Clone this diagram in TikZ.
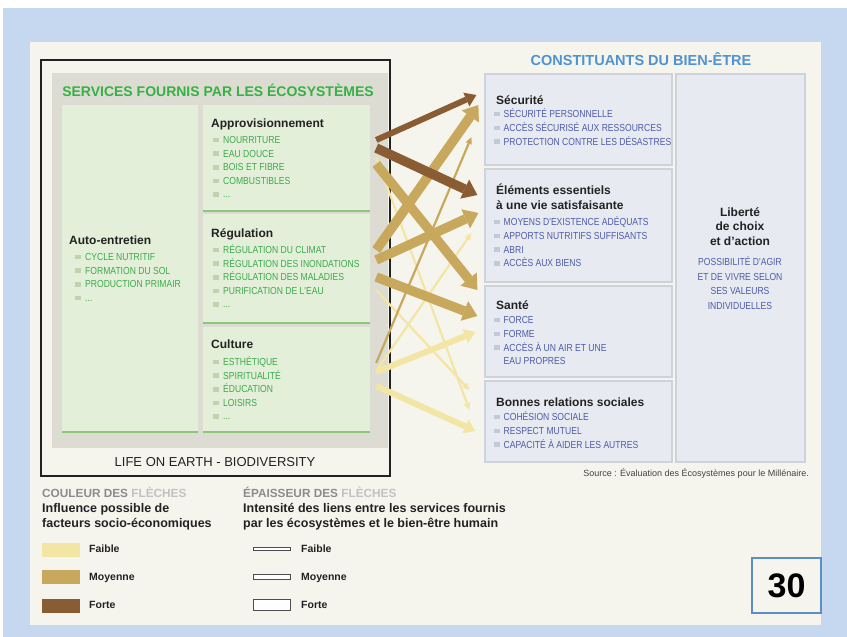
\documentclass[tikz,border=0pt]{standalone}
\usepackage{fontspec}
\setmainfont{Liberation Sans}
\newfontfamily\etroit[FakeStretch=0.84]{Liberation Sans}
\usetikzlibrary{arrows.meta,calc}
\definecolor{mebleu}{HTML}{C5D8EF}
\definecolor{mecreme}{HTML}{F5F4ED}
\definecolor{megris}{HTML}{DCDCD3}
\definecolor{mevertfond}{HTML}{E4EFD9}
\definecolor{mevertligne}{HTML}{8DC57C}
\definecolor{mevert}{HTML}{3BAA4C}
\definecolor{mevertpuce}{HTML}{BFD3AE}
\definecolor{mebleufond}{HTML}{E8EAF1}
\definecolor{mebleubord}{HTML}{CDD2DD}
\definecolor{mebleutexte}{HTML}{4D5CAA}
\definecolor{mebleutitre}{HTML}{4F93D2}
\definecolor{mebleupuce}{HTML}{C4C9D6}
\definecolor{meink}{HTML}{222222}
\definecolor{mefaible}{HTML}{F3E6A4}
\definecolor{memoyenne}{HTML}{C8A85C}
\definecolor{meforte}{HTML}{8A5C33}
\definecolor{megristexte}{HTML}{8C8C8C}
\definecolor{megrisclair}{HTML}{C2C2C2}
\definecolor{mecadre}{HTML}{5B8DCB}

\newcommand{\pv}{{\color{mevertpuce}\rule[1.2pt]{5.5pt}{4.5pt}}\hspace{4.5pt}}
\newcommand{\pb}{{\color{mebleupuce}\rule[1.2pt]{5.5pt}{4.5pt}}\hspace{4pt}}

\begin{document}
\begin{tikzpicture}[
  x=1pt, y=-1pt,
  font=\rmfamily,
  gbox/.style={fill=mevertfond, inner sep=0pt},
  bbox/.style={fill=mebleufond, draw=mebleubord, line width=1.2pt, inner sep=0pt},
  gline/.style={draw=mevertligne, line width=1.6pt},
  ghead/.style={anchor=base west, inner sep=0pt, align=left, text=meink,
    font=\bfseries\fontsize{12}{15}\selectfont},
  gitem/.style={anchor=base west, inner sep=0pt, align=left, text=mevert,
    font=\etroit\fontsize{10.2}{13.6}\selectfont},
  bitem/.style={gitem, text=mebleutexte, font=\etroit\fontsize{10.2}{13.8}\selectfont},
  mince/.style={line width=2.2pt, -{Triangle[length=7pt,width=6.5pt,line width=0pt]}},
  moyen/.style={line width=6pt, -{Triangle[length=11pt,width=15pt,line width=0pt]}},
  epais/.style={line width=9.5pt, -{Triangle[length=14pt,width=21pt,line width=0pt]}},
  faible/.style={draw=mefaible},
  moyenne/.style={draw=memoyenne},
  forte/.style={draw=meforte},
  legtitre/.style={anchor=base west, inner sep=0pt, align=left, text=meink,
    font=\bfseries\fontsize{12.5}{15}\selectfont},
  legtxt/.style={anchor=base west, inner sep=0pt, text=meink,
    font=\bfseries\fontsize{10.5}{12}\selectfont},
  swatch/.style={minimum width=38pt, minimum height=14pt, inner sep=0pt},
  epbox/.style={draw=meink!80, fill=white, line width=0.8pt, minimum width=37pt, inner sep=0pt},
]

% ===== fond =====
\useasboundingbox (0,0) rectangle (847,637);
\fill[white] (0,0) rectangle (847,637);
\fill[mebleu] (3,8) rectangle (847,637);
\fill[mecreme] (30,42) rectangle (821,625);

% =========================================================
% GAUCHE : SERVICES
% (multi-line nodes sit on the baseline of their last line)
% =========================================================
\fill[megris] (52,73) rectangle (388,448);
\node[font=\bfseries\fontsize{14}{16}\selectfont, text=mevert!90!green, anchor=base, inner sep=0pt]
  (titreserv) at (218,96) {SERVICES FOURNIS PAR LES ÉCOSYSTÈMES};

\node[gbox, minimum width=136pt, minimum height=327pt] (auto) at (130,268.5) {};
\node[gbox, minimum width=167pt, minimum height=106pt] (appro) at (286.5,158) {};
\node[gbox, minimum width=167pt, minimum height=109pt] (regul) at (286.5,268.5) {};
\node[gbox, minimum width=167pt, minimum height=105pt] (cult) at (286.5,379.5) {};
\draw[gline] (auto.south west) -- (auto.south east);
\draw[gline] (appro.south west) -- (appro.south east);
\draw[gline] (regul.south west) -- (regul.south east);
\draw[gline] (cult.south west) -- (cult.south east);

\node[ghead] (autotitre) at (69,244) {Auto-entretien};
\node[gitem] (autoliste) at (75,301.3)
  {\pv CYCLE NUTRITIF\\\pv FORMATION DU SOL\\\pv PRODUCTION PRIMAIR\\\pv ...};
\node[ghead] (approtitre) at (211,127) {Approvisionnement};
\node[gitem] (approliste) at (213,197.9)
  {\pv NOURRITURE\\\pv EAU DOUCE\\\pv BOIS ET FIBRE\\\pv COMBUSTIBLES\\\pv ...};
\node[ghead] (regultitre) at (211,237) {Régulation};
\node[gitem] (regulliste) at (213,307.9)
  {\pv RÉGULATION DU CLIMAT\\\pv RÉGULATION DES INONDATIONS\\\pv RÉGULATION DES MALADIES\\\pv PURIFICATION DE L'EAU\\\pv ...};
\node[ghead] (culttitre) at (211,348) {Culture};
\node[gitem] (cultliste) at (213,419.9)
  {\pv ESTHÉTIQUE\\\pv SPIRITUALITÉ\\\pv ÉDUCATION\\\pv LOISIRS\\\pv ...};

\node[font=\fontsize{13}{15}\selectfont, text=meink, anchor=base, inner sep=0pt]
  (vie) at (215,466.7) {LIFE ON EARTH - BIODIVERSITY};
\draw[draw=meink, line width=1.4pt] (41,60) rectangle (390,476);

% =========================================================
% DROITE : CONSTITUANTS DU BIEN-ETRE
% =========================================================
\node[font=\bfseries\fontsize{14.5}{16}\selectfont, text=mebleutitre, anchor=base, inner sep=0pt]
  (titrebien) at (641,65) {CONSTITUANTS DU BIEN-ÊTRE};

\node[bbox, minimum width=187pt, minimum height=91pt] (secu) at (578.5,119.5) {};
\node[bbox, minimum width=187pt, minimum height=113pt] (essen) at (578.5,225.5) {};
\node[bbox, minimum width=187pt, minimum height=91pt] (sante) at (578.5,331.5) {};
\node[bbox, minimum width=187pt, minimum height=81pt] (relat) at (578.5,421.5) {};
\node[bbox, minimum width=129pt, minimum height=388pt] (liberte) at (740.5,268) {};

\node[ghead] (secutitre) at (496,104.3) {Sécurité};
\node[bitem] (seculiste) at (494,145.1)
  {\pb SÉCURITÉ PERSONNELLE\\\pb ACCÈS SÉCURISÉ AUX RESSOURCES\\\pb PROTECTION CONTRE LES DÉSASTRES};
\node[ghead] (essentitre) at (496,209.3) {Éléments essentiels\\à une vie satisfaisante};
\node[bitem] (essenliste) at (494,266.9)
  {\pb MOYENS D'EXISTENCE ADÉQUATS\\\pb APPORTS NUTRITIFS SUFFISANTS\\\pb ABRI\\\pb ACCÈS AUX BIENS};
\node[ghead] (santetitre) at (496,309) {Santé};
\node[bitem] (santeliste) at (494,364.9)
  {\pb FORCE\\\pb FORME\\\pb ACCÈS À UN AIR ET UNE\\\hspace*{9.5pt}EAU PROPRES};
\node[ghead] (relattitre) at (496,406) {Bonnes relations sociales};
\node[bitem] (relatliste) at (494,448.1)
  {\pb COHÉSION SOCIALE\\\pb RESPECT MUTUEL\\\pb CAPACITÉ À AIDER LES AUTRES};
\node[ghead, anchor=base, align=center, font=\bfseries\fontsize{12}{14.6}\selectfont]
  (libertetitre) at (740,245.5) {Liberté\\de choix\\et d'action};
\node[bitem, anchor=base, align=center, font=\etroit\fontsize{10.2}{14.6}\selectfont]
  (liberteliste) at (740,309.3) {POSSIBILITÉ D'AGIR\\ET DE VIVRE SELON\\SES VALEURS\\INDIVIDUELLES};

\node[anchor=base east, inner sep=0pt, font=\fontsize{9}{11}\selectfont, text=meink!85]
  (source) at (809,476) {Source : Évaluation des Écosystèmes pour le Millénaire.};

% ===== flèches =====
\draw[faible, mince] ($(appro.east)+(6,-1)$) -- ($(relat.west)+(-15,-11.5)$);
\draw[faible, mince] ($(regul.east)+(6,21.5)$) -- ($(relat.west)+(-15,-31.5)$);
\draw[faible, mince] ($(cult.east)+(6,-8.5)$) -- ($(essen.west)+(-13,7.5)$);
\draw[faible, moyen] ($(cult.east)+(6,-7.5)$) -- ($(sante.west)+(-9,0.5)$);
\draw[faible, moyen] ($(cult.east)+(6,6.5)$) -- ($(relat.west)+(-9,9.5)$);
\draw[moyenne, mince] ($(cult.east)+(6,-16.5)$) -- ($(secu.west)+(-13,17.5)$);
\draw[moyenne, epais] ($(appro.east)+(6,6)$) -- ($(sante.west)+(-7,-41.5)$);
\draw[moyenne, epais] ($(regul.east)+(6,-18.5)$) -- ($(secu.west)+(-6,-14.5)$);
\draw[moyenne, epais] ($(regul.east)+(6,-8.5)$) -- ($(essen.west)+(-6,-12.5)$);
\draw[moyenne, epais] ($(regul.east)+(6,8.5)$) -- ($(sante.west)+(-7,-15.5)$);
\draw[forte, moyen] ($(appro.east)+(6,-18)$) -- ($(secu.west)+(-8,-24.5)$);
\draw[forte, epais] ($(appro.east)+(6,-10)$) -- ($(essen.west)+(-7,-30.5)$);

% =========================================================
% LEGENDE
% =========================================================
\node[anchor=base west, inner sep=0pt, font=\bfseries\fontsize{11.8}{13}\selectfont, text=megristexte]
  (legcoul) at (42,497) {COULEUR DES \textcolor{megrisclair}{FLÈCHES}};
\node[legtitre] (legcoultxt) at (42,527.5) {Influence possible de\\facteurs socio-économiques};
\node[swatch, fill=mefaible] (cfaible) at (61,549.5) {};
\node[swatch, fill=memoyenne] (cmoyenne) at (61,577) {};
\node[swatch, fill=meforte] (cforte) at (61,605.5) {};
\node[legtxt] at (89,552.8) {Faible};
\node[legtxt] at (89,580.8) {Moyenne};
\node[legtxt] at (89,608.8) {Forte};

\node[anchor=base west, inner sep=0pt, font=\bfseries\fontsize{11.8}{13}\selectfont, text=megristexte]
  (legep) at (243,497) {ÉPAISSEUR DES \textcolor{megrisclair}{FLÈCHES}};
\node[legtitre] (legeptxt) at (243,527.5)
  {Intensité des liens entre les services fournis\\par les écosystèmes et le bien-être humain};
\node[epbox, minimum height=3pt] (efaible) at (271.5,549) {};
\node[epbox, minimum height=5.5pt] (emoyenne) at (271.5,577) {};
\node[epbox, minimum height=11pt] (eforte) at (271.5,605) {};
\node[legtxt] at (301,552.8) {Faible};
\node[legtxt] at (301,580.8) {Moyenne};
\node[legtxt] at (301,608.8) {Forte};

% ===== numéro =====
\node[draw=mecadre, fill=mecreme, line width=1.2pt, minimum width=69pt, minimum height=55pt,
  font=\bfseries\fontsize{34}{36}\selectfont, text=black] (page) at (786.5,585.5) {30};

\end{tikzpicture}
\end{document}
